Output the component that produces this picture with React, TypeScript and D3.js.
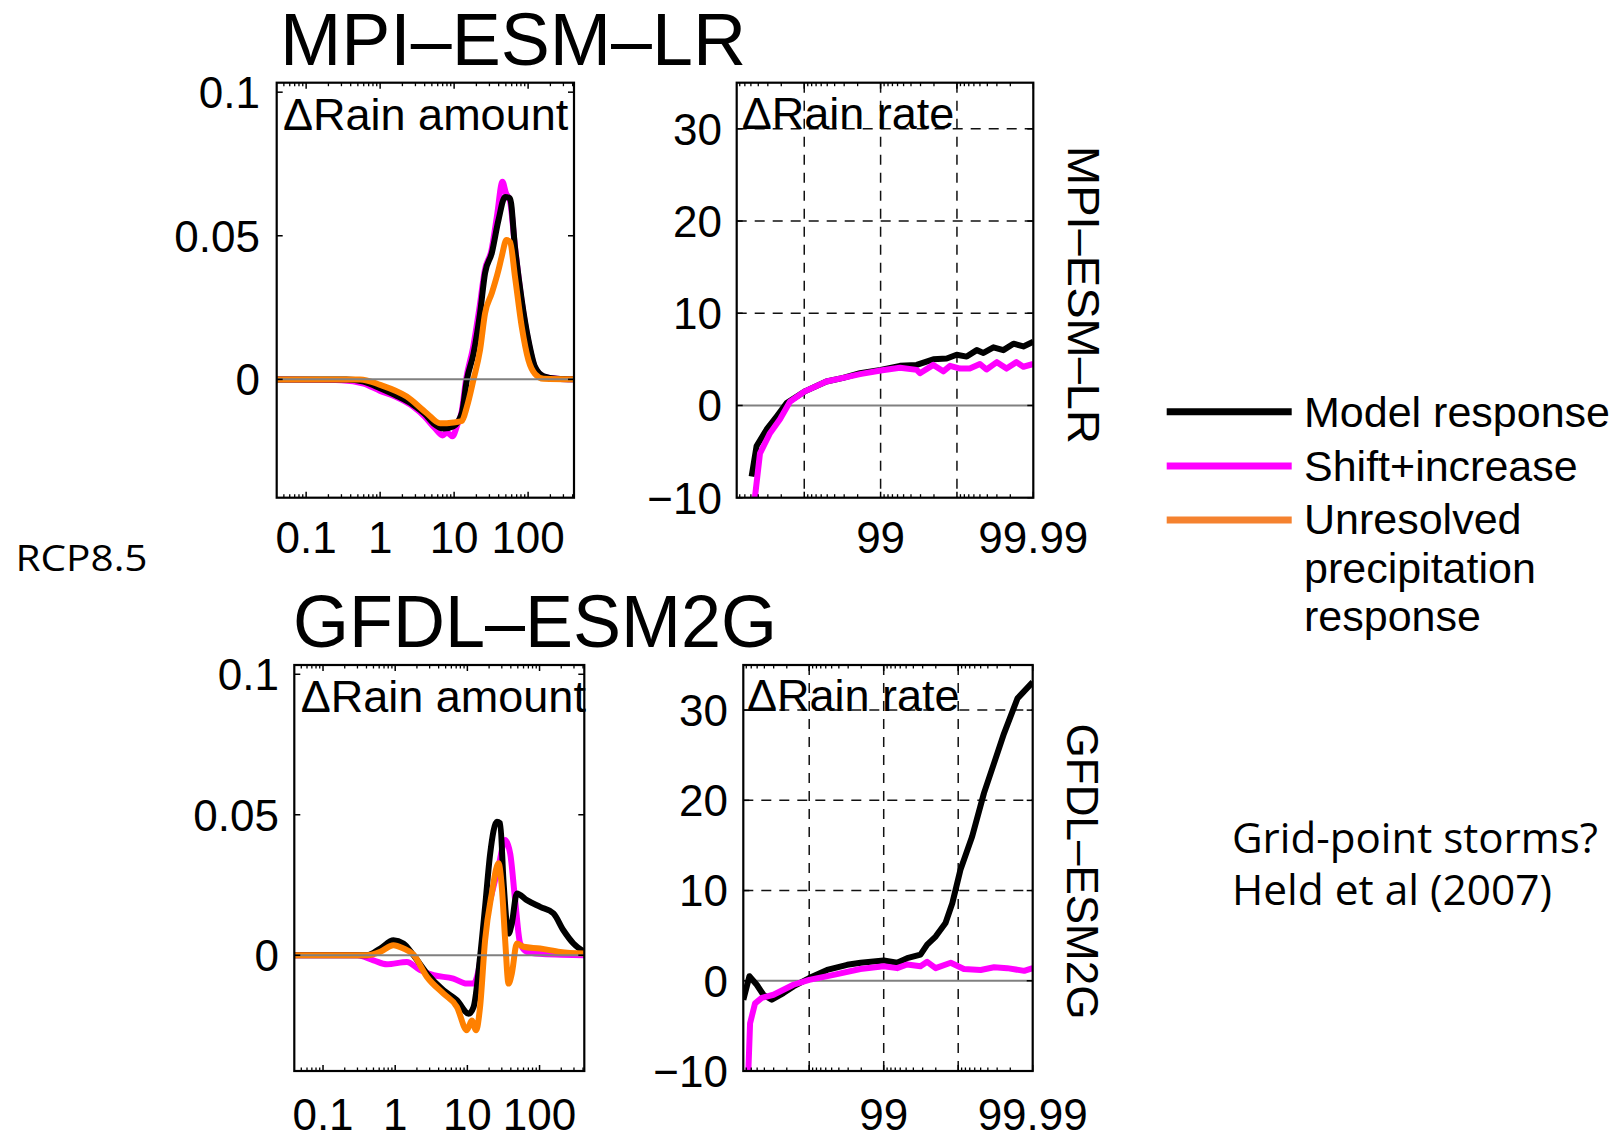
import React from 'react';
import * as d3 from 'd3';

const FONT = '"Liberation Sans", Arial, Helvetica, sans-serif';
const FONT2 = '"Open Sans", "Noto Sans", sans-serif';

// ---------- DATA ----------
// MPI-ESM-LR, ΔRain amount (x: rain rate mm/day, y: Δ amount)
const mpiAmtBlackX = [0.04, 0.35, 0.6, 1, 1.6, 2.8, 4, 5.25, 7.2, 9.8, 12.7, 14.9, 18.3, 22.4, 26.2, 32.3, 39.7, 48.8, 57, 66.5, 82, 101, 124, 162, 245, 417];
const mpiAmtBlackY = [0, 0, -0.0008, -0.0031, -0.0055, -0.0089, -0.012, -0.0153, -0.0171, -0.0163, -0.0118, 0, 0.009, 0.023, 0.037, 0.044, 0.0554, 0.0635, 0.063, 0.046, 0.0276, 0.0137, 0.0044, 0.0011, 0.0002, 0];
const mpiAmtMagX = [0.04, 0.3, 0.6, 1, 1.6, 2.8, 4, 5.5, 7, 8, 9.5, 11, 12.7, 14.5, 18, 22, 26, 32, 38, 45, 50, 57, 66.5, 82, 101, 124, 162, 245, 417];
const mpiAmtMagY = [0, -0.0003, -0.0015, -0.004, -0.006, -0.0095, -0.013, -0.017, -0.0195, -0.0185, -0.0198, -0.016, -0.011, 0, 0.011, 0.025, 0.038, 0.045, 0.057, 0.0688, 0.065, 0.062, 0.046, 0.027, 0.013, 0.004, 0.001, 0.0002, 0];
const mpiAmtOrgX = [0.04, 0.537, 1, 2.29, 4.27, 6.47, 9.8, 12.7, 14.9, 18.3, 22.4, 26.2, 32.3, 39.7, 43.9, 51, 57, 66.5, 82, 101, 124, 162, 417];
const mpiAmtOrgY = [0, 0, -0.0019, -0.006, -0.0118, -0.0153, -0.015, -0.0145, -0.0095, 0, 0.0102, 0.023, 0.03, 0.038, 0.0427, 0.0485, 0.0478, 0.0357, 0.0183, 0.0067, 0.0019, 0.0002, 0];

// GFDL-ESM2G, ΔRain amount
const gfdlAmtBlackX = [0.04, 0.405, 0.62, 0.947, 1.3, 1.79, 2.75, 4.67, 7.16, 10.4, 12.2, 15.0, 17.6, 20.7, 25.6, 28.5, 31.6, 37.2, 41.3, 48.5, 66.7, 102, 156, 214, 295, 417];
const gfdlAmtBlackY = [0, 0, 0.0024, 0.0053, 0.0042, 0, -0.0065, -0.0125, -0.016, -0.0208, -0.0184, -0.0006, 0.0172, 0.0362, 0.0475, 0.047, 0.0267, 0.0077, 0.0113, 0.022, 0.0196, 0.0172, 0.0149, 0.0089, 0.0042, 0.0012];
const gfdlAmtMagX = [0.04, 0.3, 0.5, 0.77, 1.45, 2.22, 3.4, 6.4, 9.8, 12.2, 14.3, 17.6, 21.8, 27.0, 33.4, 39.2, 45.9, 53.9, 66.7, 100, 200, 417];
const gfdlAmtMagY = [0, 0, -0.0018, -0.0032, -0.0024, -0.0053, -0.0071, -0.0083, -0.0101, -0.0101, -0.0053, 0.0113, 0.022, 0.0315, 0.041, 0.0362, 0.0196, 0.0042, 0.0012, 0.0005, 0.0002, 0];
const gfdlAmtOrgX = [0.04, 0.405, 0.62, 0.947, 1.3, 1.79, 2.75, 4.67, 7.16, 9.84, 11.5, 13.2, 15.0, 17.6, 21.8, 27.0, 30.0, 33.4, 37.2, 41.3, 48.5, 59.9, 102, 193, 417];
const gfdlAmtOrgY = [0, 0, 0.0012, 0.0036, 0.0024, 0.0002, -0.0077, -0.0137, -0.0184, -0.0267, -0.0232, -0.0267, -0.0184, 0.0053, 0.022, 0.0327, 0.0243, 0.0053, -0.0101, -0.0065, 0.0042, 0.003, 0.0024, 0.0012, 0.0006];

// MPI-ESM-LR, ΔRain rate (x: percentile, y: Δ rate %)
const mpiRateBlackP = [51.1, 57.9, 68.9, 77.0, 83.0, 90, 94.87, 96.91, 98.14, 99, 99.443, 99.663, 99.796, 99.864, 99.899, 99.9255, 99.945, 99.955, 99.9667, 99.9753, 99.9818, 99.9865, 99.99];
const mpiRateBlackV = [-7.7, -4.4, -2.6, -1.2, 0.26, 1.5, 2.6, 3.0, 3.5, 3.86, 4.3, 4.4, 5.0, 5.1, 5.5, 5.3, 6.0, 5.7, 6.3, 6.0, 6.7, 6.4, 6.9];
const mpiRateMagP = [55.7, 62.0, 71.9, 79.2, 84.6, 90, 94.87, 96.91, 98.14, 99, 99.443, 99.663, 99.695, 99.796, 99.849, 99.877, 99.909, 99.932, 99.95, 99.959, 99.97, 99.9776, 99.9834, 99.9865, 99.99];
const mpiRateMagV = [-10, -5.2, -3.0, -1.5, 0.4, 1.5, 2.6, 3.0, 3.4, 3.8, 4.1, 3.86, 3.5, 4.4, 3.7, 4.3, 4.0, 4.0, 4.5, 3.9, 4.7, 4.0, 4.7, 4.2, 4.5];

// GFDL-ESM2G, ΔRain rate
const gfdlRateBlackP = [23.4, 36.5, 49.4, 58.8, 68.2, 77.8, 83.7, 90, 94.25, 96.91, 97.96, 99, 99.339, 99.516, 99.679, 99.739, 99.799, 99.852, 99.88, 99.9067, 99.935, 99.9549, 99.9669, 99.9757, 99.984, 99.99];
const gfdlRateBlackV = [-2.1, 0.5, -0.44, -1.55, -2.1, -1.36, -0.63, 0.3, 1.2, 1.77, 2.0, 2.25, 2.0, 2.5, 2.9, 4.0, 4.9, 6.4, 8.6, 12.3, 16, 20.8, 24.1, 27.4, 31.3, 33.1];
const gfdlRateMagP = [34.4, 37.8, 46.7, 56.6, 69.8, 83.7, 90, 95.29, 97.94, 99, 99.339, 99.516, 99.679, 99.739, 99.799, 99.874, 99.916, 99.95, 99.967, 99.978, 99.987, 99.99];
const gfdlRateMagV = [-10, -4.7, -2.5, -1.9, -1.55, -0.44, 0.1, 0.66, 1.3, 1.6, 1.4, 1.8, 1.6, 2.1, 1.4, 2.0, 1.3, 1.2, 1.5, 1.4, 1.1, 1.4];

// Ticks
const amtXTicks = [0.1, 1, 10, 100];
const amtXTickLabels = ['0.1', '1', '10', '100'];
const amtYTicks = [0, 0.05, 0.1];
const amtYTickLabels = ['0', '0.05', '0.1'];
const rateXTicks = [90, 99, 99.9, 99.99];
const rateXTickLabels = ['', '99', '', '99.99'];
const rateYTicks = [-10, 0, 10, 20, 30];
const rateYTickLabels = ['\u221210', '0', '10', '20', '30'];
const rateGridY = [10, 20, 30];
const rateGridX = [90, 99, 99.9];

const legendLabels = ['Model response', 'Shift+increase', 'Unresolved'];
const legendExtra = ['precipitation', 'response'];

const BLACK = '#000000';
const MAGENTA = '#ff00ff';
const ORANGE = '#ff8000';
const LEG_ORANGE = '#f5822f';

type Box = { l: number; t: number; r: number; b: number };
type Ser = { xs: number[]; ys: number[]; color: string };

function zip(xs: number[], ys: number[]): [number, number][] {
  return xs.map((x, i) => [x, ys[i]]);
}

const LW = 6;

function AmountPanel({ box, series, label, labelX, labelY, yLabRight, xLabBase, id }:
  { box: Box; series: Ser[]; label: string; labelX: number; labelY: number; yLabRight: number; xLabBase: number; id: string }) {
  const x = d3.scaleLog().domain([0.04, 417]).range([box.l, box.r]);
  const y = d3.scaleLinear().domain([-0.0412, 0.1033]).range([box.b, box.t]);
  const line = d3.line<[number, number]>().x(d => x(d[0])).y(d => y(d[1])).curve(d3.curveMonotoneX);
  const minor: number[] = [];
  for (let e = -2; e <= 3; e++) for (let k = 2; k <= 9; k++) {
    const v = k * Math.pow(10, e);
    if (v > 0.04 && v < 417) minor.push(v);
  }
  return (
    <g>
      <defs><clipPath id={id}><rect x={box.l} y={box.t} width={box.r - box.l} height={box.b - box.t} /></clipPath></defs>
      <g clipPath={`url(#${id})`}>
        {series.map((s, i) => (
          <path key={i} d={line(zip(s.xs, s.ys)) || ''} fill="none" stroke={s.color} strokeWidth={LW} strokeLinejoin="round" strokeLinecap="round" />
        ))}
        <line x1={box.l} x2={box.r} y1={y(0)} y2={y(0)} stroke="#808080" strokeWidth={2} />
      </g>
      {minor.map((v, i) => (
        <g key={'m' + i} stroke="#000" strokeWidth={1.3}>
          <line x1={x(v)} x2={x(v)} y1={box.b} y2={box.b - 3.5} />
          <line x1={x(v)} x2={x(v)} y1={box.t} y2={box.t + 3.5} />
        </g>
      ))}
      {amtXTicks.map((v, i) => (
        <g key={'M' + i}>
          <line x1={x(v)} x2={x(v)} y1={box.b} y2={box.b - 6} stroke="#000" strokeWidth={1.5} />
          <line x1={x(v)} x2={x(v)} y1={box.t} y2={box.t + 6} stroke="#000" strokeWidth={1.5} />
          <text x={x(v)} y={xLabBase} textAnchor="middle" fontSize={44} fontFamily={FONT}>{amtXTickLabels[i]}</text>
        </g>
      ))}
      {amtYTicks.map((v, i) => (
        <g key={'Y' + i}>
          <line x1={box.l} x2={box.l + 6} y1={y(v)} y2={y(v)} stroke="#000" strokeWidth={1.5} />
          <line x1={box.r} x2={box.r - 6} y1={y(v)} y2={y(v)} stroke="#000" strokeWidth={1.5} />
          <text x={yLabRight} y={y(v)} dy="0.36em" textAnchor="end" fontSize={44} fontFamily={FONT}>{amtYTickLabels[i]}</text>
        </g>
      ))}
      <text x={labelX} y={labelY} fontSize={45} fontFamily={FONT}>{label}</text>
      <rect x={box.l} y={box.t} width={box.r - box.l} height={box.b - box.t} fill="none" stroke="#000" strokeWidth={2.2} />
    </g>
  );
}

function RatePanel({ box, series, label, labelX, labelY, yLabRight, xLabBase, id }:
  { box: Box; series: Ser[]; label: string; labelX: number; labelY: number; yLabRight: number; xLabBase: number; id: string }) {
  // log axis of exceedance (100 - percentile), reversed
  const xe = d3.scaleLog().domain([76.7, 0.01]).range([box.l, box.r]);
  const x = (p: number) => xe(100 - p);
  const y = d3.scaleLinear().domain([-10, 35]).range([box.b, box.t]);
  const line = d3.line<[number, number]>().x(d => x(d[0])).y(d => y(d[1])).curve(d3.curveLinear);
  const minor: number[] = [];
  for (let e = -2; e <= 1; e++) for (let k = 2; k <= 9; k++) {
    const v = k * Math.pow(10, e);
    if (v > 0.01 && v < 76.7) minor.push(v);
  }
  return (
    <g>
      <defs><clipPath id={id}><rect x={box.l} y={box.t} width={box.r - box.l} height={box.b - box.t} /></clipPath></defs>
      {rateGridY.map((v, i) => (
        <line key={'gy' + i} x1={box.l} x2={box.r} y1={y(v)} y2={y(v)} stroke="#111" strokeWidth={1.5} strokeDasharray="10,8" />
      ))}
      {rateGridX.map((v, i) => (
        <line key={'gx' + i} x1={x(v)} x2={x(v)} y1={box.t} y2={box.b} stroke="#111" strokeWidth={1.5} strokeDasharray="10,8" />
      ))}
      <line x1={box.l} x2={box.r} y1={y(0)} y2={y(0)} stroke="#808080" strokeWidth={2} />
      <g clipPath={`url(#${id})`}>
        {series.map((s, i) => (
          <path key={i} d={line(zip(s.xs, s.ys)) || ''} fill="none" stroke={s.color} strokeWidth={LW} strokeLinejoin="round" strokeLinecap="butt" />
        ))}
      </g>
      {minor.map((v, i) => (
        <g key={'m' + i} stroke="#000" strokeWidth={1.3}>
          <line x1={xe(v)} x2={xe(v)} y1={box.b} y2={box.b - 3.5} />
          <line x1={xe(v)} x2={xe(v)} y1={box.t} y2={box.t + 3.5} />
        </g>
      ))}
      {rateXTicks.map((v, i) => (
        <g key={'M' + i}>
          <line x1={x(v)} x2={x(v)} y1={box.b} y2={box.b - 6} stroke="#000" strokeWidth={1.5} />
          <line x1={x(v)} x2={x(v)} y1={box.t} y2={box.t + 6} stroke="#000" strokeWidth={1.5} />
          <text x={x(v)} y={xLabBase} textAnchor="middle" fontSize={44} fontFamily={FONT}>{rateXTickLabels[i]}</text>
        </g>
      ))}
      {rateYTicks.map((v, i) => (
        <g key={'Y' + i}>
          <line x1={box.l} x2={box.l + 6} y1={y(v)} y2={y(v)} stroke="#000" strokeWidth={1.5} />
          <line x1={box.r} x2={box.r - 6} y1={y(v)} y2={y(v)} stroke="#000" strokeWidth={1.5} />
          <text x={yLabRight} y={y(v)} dy="0.36em" textAnchor="end" fontSize={44} fontFamily={FONT}>{rateYTickLabels[i]}</text>
        </g>
      ))}
      <text x={labelX} y={labelY} fontSize={45} fontFamily={FONT}>{label}</text>
      <rect x={box.l} y={box.t} width={box.r - box.l} height={box.b - box.t} fill="none" stroke="#000" strokeWidth={2.2} />
    </g>
  );
}

export default function App() {
  const legendColors = [BLACK, MAGENTA, LEG_ORANGE];
  const legendLineY = [411.7, 466, 520];
  const legendTextY = [427, 480.5, 534];
  const legendExtraY = [583, 631];
  return (
    <svg width={1624} height={1131} viewBox="0 0 1624 1131"
      style={{ position: 'absolute', left: 0, top: 0, background: '#fff' }}>
      <rect x={0} y={0} width={1624} height={1131} fill="#fff" />
      <text x={280} y={64.5} fontSize={74} fontFamily={FONT} textLength={466} lengthAdjust="spacingAndGlyphs">MPI–ESM–LR</text>
      <text x={293} y={647} fontSize={74} fontFamily={FONT} textLength={484} lengthAdjust="spacingAndGlyphs">GFDL–ESM2G</text>

      <AmountPanel id="c1" box={{ l: 276.7, t: 82.7, r: 574, b: 497.7 }}
        series={[
          { xs: mpiAmtMagX, ys: mpiAmtMagY, color: MAGENTA },
          { xs: mpiAmtBlackX, ys: mpiAmtBlackY, color: BLACK },
          { xs: mpiAmtOrgX, ys: mpiAmtOrgY, color: ORANGE },
        ]}
        label="ΔRain amount" labelX={283} labelY={130} yLabRight={260} xLabBase={553} />
      <RatePanel id="c2" box={{ l: 736.7, t: 82.7, r: 1033.3, b: 497.7 }}
        series={[
          { xs: mpiRateBlackP, ys: mpiRateBlackV, color: BLACK },
          { xs: mpiRateMagP, ys: mpiRateMagV, color: MAGENTA },
        ]}
        label="ΔRain rate" labelX={741.7} labelY={129} yLabRight={722} xLabBase={553} />
      <AmountPanel id="c3" box={{ l: 294.3, t: 665, r: 584.3, b: 1071 }}
        series={[
          { xs: gfdlAmtMagX, ys: gfdlAmtMagY, color: MAGENTA },
          { xs: gfdlAmtBlackX, ys: gfdlAmtBlackY, color: BLACK },
          { xs: gfdlAmtOrgX, ys: gfdlAmtOrgY, color: ORANGE },
        ]}
        label="ΔRain amount" labelX={300.7} labelY={711.7} yLabRight={279} xLabBase={1129.5} />
      <RatePanel id="c4" box={{ l: 743.3, t: 665, r: 1032.7, b: 1071 }}
        series={[
          { xs: gfdlRateBlackP, ys: gfdlRateBlackV, color: BLACK },
          { xs: gfdlRateMagP, ys: gfdlRateMagV, color: MAGENTA },
        ]}
        label="ΔRain rate" labelX={747} labelY={711} yLabRight={728} xLabBase={1129.5} />

      <text transform="translate(1068,295) rotate(90)" textAnchor="middle" fontSize={45} fontFamily={FONT} textLength={298} lengthAdjust="spacingAndGlyphs">MPI–ESM–LR</text>
      <text transform="translate(1067,871.5) rotate(90)" textAnchor="middle" fontSize={45} fontFamily={FONT} textLength={296} lengthAdjust="spacingAndGlyphs">GFDL–ESM2G</text>

      {legendLabels.map((lab, i) => (
        <g key={lab}>
          <line x1={1166.7} x2={1291.7} y1={legendLineY[i]} y2={legendLineY[i]} stroke={legendColors[i]} strokeWidth={7} />
          <text x={1304} y={legendTextY[i]} fontSize={43} fontFamily={FONT}>{lab}</text>
        </g>
      ))}
      {legendExtra.map((lab, i) => (
        <text key={lab} x={1304} y={legendExtraY[i]} fontSize={43} fontFamily={FONT}>{lab}</text>
      ))}

      <text x={15.5} y={571} fontSize={37} fontFamily={FONT2} textLength={132} lengthAdjust="spacingAndGlyphs">RCP8.5</text>
      <text x={1232} y={853.3} fontSize={42} fontFamily={FONT2} textLength={366} lengthAdjust="spacingAndGlyphs">Grid-point storms?</text>
      <text x={1232} y={905} fontSize={42} fontFamily={FONT2} textLength={320} lengthAdjust="spacingAndGlyphs">Held et al (2007)</text>
    </svg>
  );
}
